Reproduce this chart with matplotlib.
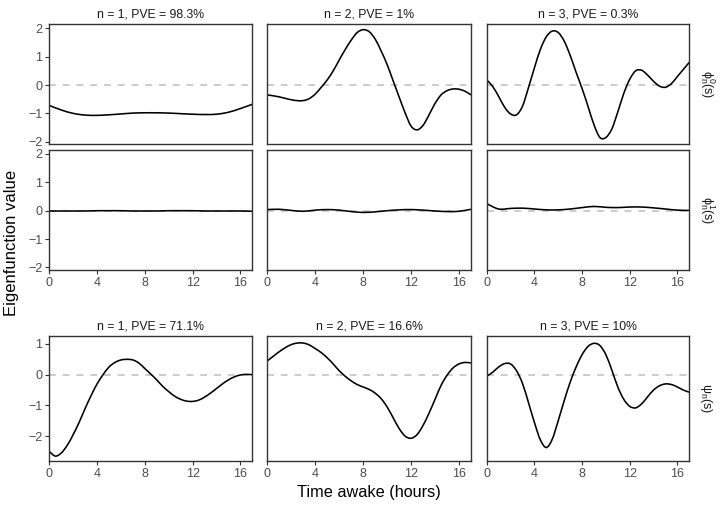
import numpy as np
import matplotlib
matplotlib.use("Agg")
import matplotlib.pyplot as plt
from matplotlib.path import Path
from matplotlib.patches import PathPatch

plt.rcParams['font.family'] = ['Liberation Sans', 'DejaVu Sans']
plt.rcParams['mathtext.fontset'] = 'custom'
plt.rcParams['mathtext.rm'] = 'Liberation Sans'
plt.rcParams['mathtext.it'] = 'Liberation Sans'

# ---------------- data ----------------
t_half = np.arange(0, 17.01, 0.5)
t_full = np.arange(0, 17.01, 1.0)

titles_top = ["n = 1, PVE = 98.3%", "n = 2, PVE = 1%", "n = 3, PVE = 0.3%"]
titles_bot = ["n = 1, PVE = 71.1%", "n = 2, PVE = 16.6%", "n = 3, PVE = 10%"]
strip_labels = [r"$\mathregular{\phi_n^0(s)}$", r"$\mathregular{\phi_n^1(s)}$",
                r"$\mathregular{\psi_n(s)}$"]
x_ticks = [0, 4, 8, 12, 16]

# phi^0, n = 1 (hourly)
phi0_n1 = [-0.72, -0.88, -1.00, -1.06, -1.07, -1.05, -1.02, -0.99, -0.98,
           -0.98, -0.99, -1.01, -1.03, -1.04, -1.03, -0.96, -0.83, -0.68]
# phi^0, n = 2 (half-hourly)
phi0_n2 = [-0.35, -0.38, -0.42, -0.47, -0.52, -0.55, -0.55, -0.48, -0.32,
           -0.08, 0.18, 0.50, 0.88, 1.25, 1.58, 1.85, 1.95, 1.88, 1.62,
           1.20, 0.72, 0.15, -0.42, -0.98, -1.45, -1.58, -1.42, -1.05,
           -0.65, -0.35, -0.20, -0.14, -0.15, -0.22, -0.35]
# phi^0, n = 3
phi0_n3 = [0.18, -0.05, -0.40, -0.78, -1.02, -1.05, -0.75, -0.10, 0.60,
           1.25, 1.70, 1.90, 1.85, 1.55, 1.05, 0.45, -0.12, -0.75, -1.40,
           -1.85, -1.85, -1.55, -0.95, -0.30, 0.20, 0.50, 0.52, 0.35,
           0.13, -0.04, -0.08, 0.05, 0.30, 0.55, 0.80]
# phi^1, n = 1 (hourly)
phi1_n1 = [-0.01, -0.01, -0.01, -0.01, 0.00, 0.00, 0.00, -0.01, -0.01,
           -0.01, 0.00, 0.00, 0.00, -0.01, -0.01, -0.01, -0.01, -0.02]
# phi^1, n = 2 (hourly)
phi1_n2 = [0.04, 0.05, 0.01, -0.02, 0.02, 0.04, 0.02, -0.03, -0.06,
           -0.04, 0.00, 0.03, 0.04, 0.02, -0.01, -0.03, -0.02, 0.05]
# phi^1, n = 3 (hourly)
phi1_n3 = [0.25, 0.06, 0.08, 0.09, 0.06, 0.03, 0.03, 0.06, 0.11, 0.15,
           0.12, 0.11, 0.13, 0.13, 0.10, 0.06, 0.02, 0.01]
# psi, n = 1 (half-hourly)
psi_n1 = [-2.50, -2.65, -2.55, -2.30, -1.95, -1.55, -1.10, -0.68, -0.30,
          0.00, 0.25, 0.40, 0.48, 0.50, 0.48, 0.38, 0.20, 0.02, -0.17,
          -0.38, -0.55, -0.70, -0.80, -0.86, -0.87, -0.83, -0.73, -0.60,
          -0.45, -0.30, -0.17, -0.07, -0.01, 0.01, 0.00]
# psi, n = 2
psi_n2 = [0.45, 0.60, 0.75, 0.88, 0.98, 1.03, 1.03, 0.97, 0.85, 0.72,
          0.55, 0.35, 0.13, -0.05, -0.20, -0.32, -0.40, -0.48, -0.60,
          -0.78, -1.05, -1.40, -1.75, -2.00, -2.07, -1.95, -1.65, -1.25,
          -0.80, -0.35, -0.02, 0.22, 0.35, 0.40, 0.38]
# psi, n = 3
psi_n3 = [-0.05, 0.08, 0.25, 0.36, 0.35, 0.13, -0.28, -0.90, -1.55,
          -2.12, -2.37, -2.10, -1.50, -0.85, -0.25, 0.25, 0.65, 0.92,
          1.02, 0.95, 0.65, 0.15, -0.40, -0.80, -1.03, -1.08, -0.95,
          -0.72, -0.50, -0.36, -0.30, -0.32, -0.40, -0.50, -0.57]

rows = [
    [(t_full, phi0_n1), (t_half, phi0_n2), (t_half, phi0_n3)],
    [(t_full, phi1_n1), (t_full, phi1_n2), (t_full, phi1_n3)],
    [(t_half, psi_n1), (t_half, psi_n2), (t_half, psi_n3)],
]


def smooth_path(x, y):
    """Catmull-Rom curve through the data points as cubic Bezier segments."""
    x = np.asarray(x, float)
    y = np.asarray(y, float)
    verts = [(x[0], y[0])]
    codes = [Path.MOVETO]
    n = len(x)
    for i in range(n - 1):
        p0 = (x[max(i - 1, 0)], y[max(i - 1, 0)])
        p1 = (x[i], y[i])
        p2 = (x[i + 1], y[i + 1])
        p3 = (x[min(i + 2, n - 1)], y[min(i + 2, n - 1)])
        c1 = (p1[0] + (p2[0] - p0[0]) / 6, p1[1] + (p2[1] - p0[1]) / 6)
        c2 = (p2[0] - (p3[0] - p1[0]) / 6, p2[1] - (p3[1] - p1[1]) / 6)
        verts += [c1, c2, p2]
        codes += [Path.CURVE4] * 3
    return Path(verts, codes)


# ---------------- layout ----------------
W, H = 721, 507
fig = plt.figure(figsize=(W / 100, H / 100), dpi=100)

col_x = [(49.3, 252.3), (267.3, 471.0), (486.7, 689.3)]
row_y = [(24.3, 144.3), (150.0, 270.0), (336.0, 461.0)]
ylims = [(-2.09, 2.14), (-2.09, 2.14), (-2.81, 1.26)]
yticks = [[-2, -1, 0, 1, 2], [-2, -1, 0, 1, 2], [-2, -1, 0, 1]]

tick_col = '#4D4D4D'
fs_tick = 9.0
for r in range(3):
    y0, y1 = row_y[r]
    for c in range(3):
        x0, x1 = col_x[c]
        ax = fig.add_axes([x0 / W, 1 - y1 / H, (x1 - x0) / W, (y1 - y0) / H])
        tx, vals = rows[r][c]
        ax.axhline(0, color='#BEBEBE', lw=1.1, ls=(0, (4.5, 4.5)), zorder=1)
        ax.add_patch(PathPatch(smooth_path(tx, vals), facecolor='none',
                               edgecolor='black', lw=1.15, zorder=2,
                               capstyle='butt'))
        ax.set_xlim(0, 17)
        ax.set_ylim(*ylims[r])
        ax.set_xticks(x_ticks)
        ax.set_yticks(yticks[r])
        for s in ax.spines.values():
            s.set_color('#333333')
            s.set_linewidth(1.0)
        ax.tick_params(axis='both', colors='#333333', labelcolor=tick_col,
                       labelsize=fs_tick, length=3, width=0.8, pad=2)
        if c != 0:
            ax.tick_params(axis='y', left=False, labelleft=False)
        if r == 0:
            ax.tick_params(axis='x', bottom=False, labelbottom=False)
        if r == 0:
            ax.set_title(titles_top[c], fontsize=8.8, color='#1A1A1A', pad=5)
        if r == 2:
            ax.set_title(titles_bot[c], fontsize=8.8, color='#1A1A1A', pad=5)
        if c == 2:
            ax.text(1.045, 0.5, strip_labels[r], transform=ax.transAxes,
                    rotation=-90, ha='left', va='center', fontsize=9,
                    color='#1A1A1A')

fig.text(12 / W, 1 - 243 / H, "Eigenfunction value", rotation=90,
         ha='center', va='center', fontsize=12, color='black')
fig.text(369 / W, 1 - 492 / H, "Time awake (hours)", ha='center',
         va='center', fontsize=11.7, color='black')

fig.savefig("out.png", dpi=100, facecolor='white')
